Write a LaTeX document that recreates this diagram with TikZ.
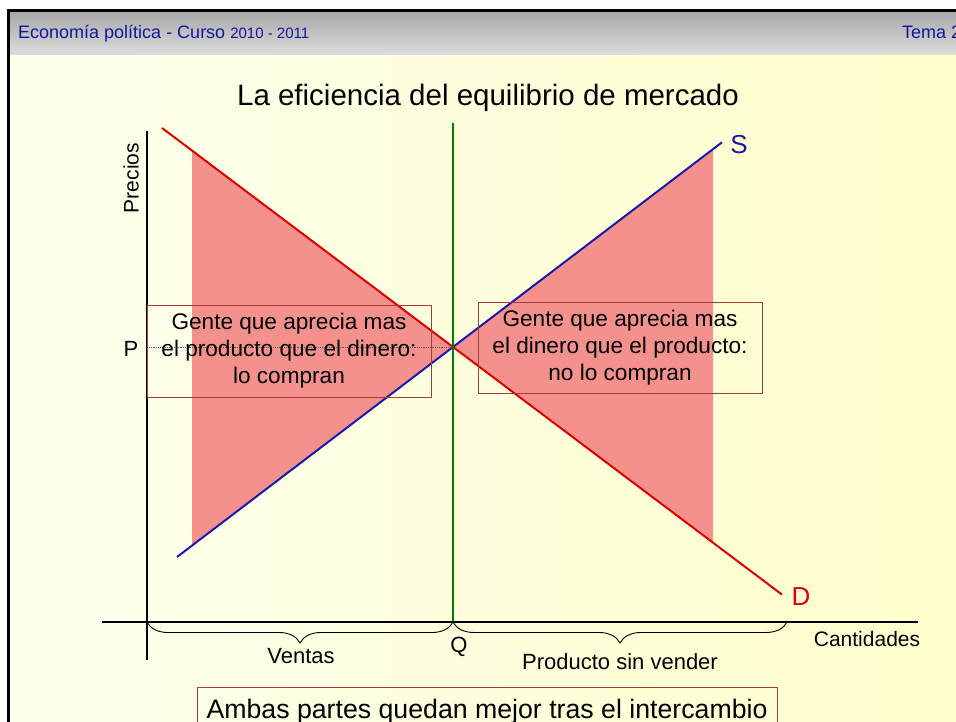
\documentclass[tikz,border=0pt]{standalone}
\usepackage{fontspec}
\setmainfont{Liberation Sans}
\usetikzlibrary{decorations.pathreplacing}
\definecolor{hdrblue}{RGB}{20,20,160}
\definecolor{hdrtop}{RGB}{168,168,168}
\definecolor{hdrbot}{RGB}{222,222,222}
\definecolor{bgleft}{RGB}{255,255,238}
\definecolor{bgright}{RGB}{255,255,204}
\definecolor{shadecol}{RGB}{244,145,140}
\definecolor{dred}{RGB}{220,0,0}
\definecolor{sblue}{RGB}{25,25,170}
\definecolor{qgreen}{RGB}{0,128,0}
\definecolor{boxred}{RGB}{165,60,60}
\begin{document}
\begin{tikzpicture}[x=1pt,y=-1pt,
  hdrtext/.style={text=hdrblue,inner sep=0pt,font=\fontsize{18}{22}\selectfont},
  demand/.style={dred,line width=2pt},
  supply/.style={sblue,line width=2pt},
  qline/.style={qgreen,line width=2pt},
  yaxisline/.style={black,line width=2pt},
  xaxisline/.style={black,line width=1.3pt},
  pdots/.style={gray!70!black,densely dotted,line width=0.8pt},
  infobox/.style={draw=boxred,line width=1pt,inner sep=0pt,align=center,
    minimum width=284pt,font=\fontsize{22.6}{27}\selectfont},
  lbl/.style={inner sep=0pt,font=\fontsize{22}{26}\selectfont},
  curvelbl/.style={inner sep=0pt,font=\fontsize{26}{30}\selectfont},
  bracestyle/.style={draw=black,line width=0.9pt,decorate,
    decoration={brace,amplitude=21pt,mirror}}
]
\useasboundingbox (0,0) rectangle (956,722);
\clip (0,0) rectangle (956,722);
% background and slide frame
\fill[white] (0,0) rectangle (956,722);
\shade[top color=hdrtop,bottom color=hdrbot] (10,12) rectangle (956,56);
\shade[left color=bgleft,right color=bgright] (10,56) rectangle (956,722);
\fill[black] (7,9) rectangle (956,12);
\fill[black] (7,9) rectangle (10,722);
% header
\node[hdrtext,anchor=base west] (hdr) at (18,39) {Economía política - Curso {\fontsize{15}{18}\selectfont 2010 - 2011}};
\node[hdrtext,anchor=base west] (tema) at (902,39) {Tema 2};
% title
\node[inner sep=0pt,anchor=base,font=\fontsize{29.5}{34}\selectfont] (title) at (488,106) {La eficiencia del equilibrio de mercado};
% key points
\coordinate (E) at (453,347);
\coordinate (D1) at (162,128);
\coordinate (D2) at (782,594.6);
\coordinate (S1) at (177,557);
\coordinate (S2) at (722,142.3);
% shaded regions
\fill[shadecol] (192,150.6) -- (E) -- (192,545.6) -- cycle;
\fill[shadecol] (E) -- (713,149.2) -- (713,542.7) -- cycle;
% curves
\draw[demand] (D1) -- (D2);
\draw[supply] (S1) -- (S2);
\coordinate (Qtop) at (453,123);
\coordinate (Q0) at (453,622);
\draw[qline] (Qtop) -- (Q0);
% axes
\coordinate (Ytop) at (147,131);
\coordinate (Ybot) at (147,660);
\coordinate (Xl) at (102,622);
\coordinate (Xr) at (918,622);
\coordinate (O) at (147,622);
\coordinate (Bend) at (787,622);
\draw[yaxisline] (Ytop) -- (Ybot);
\draw[xaxisline] (Xl) -- (Xr);
% dotted price line
\coordinate (Pl) at (149,347);
\draw[pdots] (Pl) -- (E);
% boxes
\node[infobox,minimum height=92pt] (lbox) at (289,351) {Gente que aprecia mas\\el producto que el dinero:\\lo compran};
\node[infobox,minimum height=91pt] (rbox) at (620,347.5) {Gente que aprecia mas\\el dinero que el producto:\\no lo compran};
% braces
\draw[bracestyle] (O) -- (Q0);
\draw[bracestyle] (Q0) -- (Bend);
% labels
\node[lbl,anchor=base] (P) at (131,356) {P};
\node[lbl,anchor=base] (Q) at (459,652) {Q};
\node[lbl,anchor=base] (ventas) at (301,663) {Ventas};
\node[lbl,anchor=base] (sinvender) at (620,669) {Producto sin vender};
\node[inner sep=0pt,anchor=base,font=\fontsize{21}{25}\selectfont] (cant) at (867,646) {Cantidades};
\node[inner sep=0pt,rotate=90,font=\fontsize{21}{25}\selectfont] (precios) at (131,178) {Precios};
\node[curvelbl,anchor=base,text=sblue] (Slbl) at (739,154) {S};
\node[curvelbl,anchor=base,text=dred] (Dlbl) at (801,605) {D};
% bottom box
\node[draw=boxred,line width=1pt,inner sep=0pt,minimum width=580pt,minimum height=60pt,anchor=north] (bbox) at (487,687) {};
\node[inner sep=0pt,anchor=base,font=\fontsize{26.7}{31}\selectfont] (btext) at (487,718) {Ambas partes quedan mejor tras el intercambio};
\end{tikzpicture}
\end{document}
